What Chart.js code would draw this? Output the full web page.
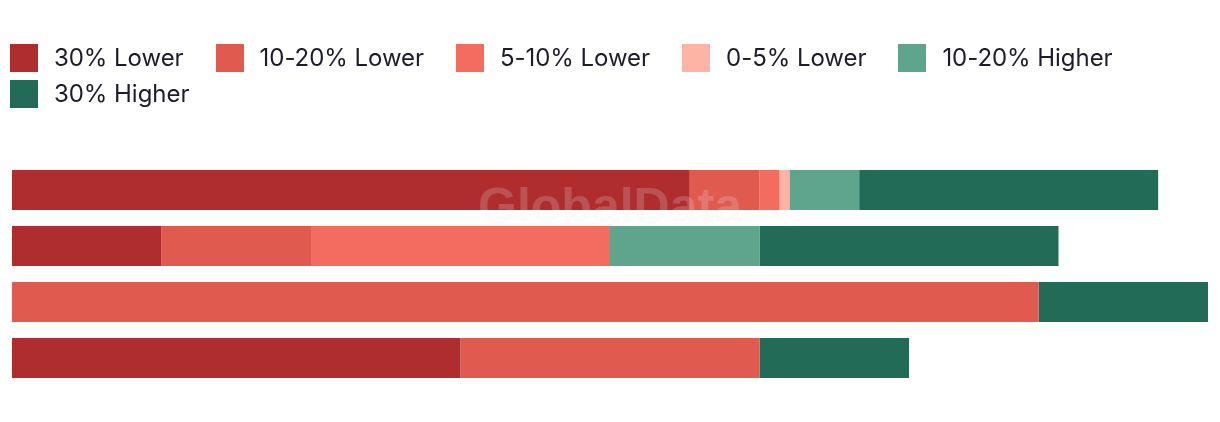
<!DOCTYPE html>
<html>
<head>
<meta charset="utf-8">
<script src="https://cdn.jsdelivr.net/npm/chart.js@4.4.1/dist/chart.umd.min.js"></script>
<style>
  html, body { margin: 0; padding: 0; background: #fff; }
  #wrap { width: 1220px; height: 422px; position: relative; }
  #legend { position: absolute; left: 10px; top: 44px; width: 1210px; display: flex; flex-wrap: wrap; row-gap: 8px; }
  .item { display: flex; align-items: center; margin-right: 32px; height: 28px; }
  .box { width: 28px; height: 28px; margin-right: 16px; }
  .label { font-family: Inter, sans-serif; font-size: 24px; color: #1c1c2b; white-space: nowrap; letter-spacing: -0.05px; position: relative; top: -1px; }
</style>
</head>
<body>
<div id="wrap">
  <canvas id="chart"></canvas>
  <div id="legend"></div>
</div>
<script>
const categories = ['Row 1', 'Row 2', 'Row 3', 'Row 4'];
const seriesNames = ['30% Lower', '10-20% Lower', '5-10% Lower', '0-5% Lower', '10-20% Higher', '30% Higher'];
const lower30 = [68, 15, 0, 45];
const lower10to20 = [7, 15, 103, 30];
const lower5to10 = [2, 30, 0, 0];
const lower0to5 = [1, 0, 0, 0];
const higher10to20 = [7, 15, 0, 0];
const higher30 = [30, 30, 17, 15];
const colors = ['#af2c2f', '#e05a4f', '#f46b60', '#fdb4a4', '#5fa58e', '#226b57'];

const seriesValues = [lower30, lower10to20, lower5to10, lower0to5, higher10to20, higher30];

// faint watermark drawn over the bars
const watermark = {
    id: 'watermark',
    afterDatasetsDraw(chart) {
        const ctx = chart.ctx;
        ctx.save();
        ctx.font = 'bold 50px "Liberation Sans", Arial, sans-serif';
        ctx.fillStyle = 'rgba(235, 235, 235, 0.2)';
        ctx.textAlign = 'center';
        ctx.textBaseline = 'middle';
        ctx.fillText('GlobalData', 610, 209);
        ctx.restore();
    }
};

// legend built from the chart's own legend items
const htmlLegend = {
    id: 'htmlLegend',
    afterUpdate(chart) {
        const el = document.getElementById('legend');
        el.innerHTML = '';
        chart.options.plugins.legend.labels.generateLabels(chart).forEach(item => {
            const div = document.createElement('div');
            div.className = 'item';
            const box = document.createElement('span');
            box.className = 'box';
            box.style.background = item.fillStyle;
            const txt = document.createElement('span');
            txt.className = 'label';
            txt.textContent = item.text;
            div.appendChild(box);
            div.appendChild(txt);
            el.appendChild(div);
        });
    }
};

const ctx = document.getElementById('chart').getContext('2d');
new Chart(ctx, {
    type: 'bar',
    data: {
        labels: categories,
        datasets: seriesNames.map((name, i) => ({
            label: name,
            data: seriesValues[i],
            backgroundColor: colors[i],
            borderWidth: 0,
            categoryPercentage: 1,
            barPercentage: 40 / 56
        }))
    },
    options: {
        indexAxis: 'y',
        responsive: true,
        maintainAspectRatio: false,
        animation: false,
        layout: {
            padding: { left: 12, right: 12, top: 162, bottom: 36 }
        },
        scales: {
            x: { stacked: true, min: 0, max: 120, display: false },
            y: { stacked: true, display: false }
        },
        plugins: {
            legend: { display: false },
            tooltip: { enabled: false }
        }
    },
    plugins: [watermark, htmlLegend]
});
</script>
</body>
</html>
